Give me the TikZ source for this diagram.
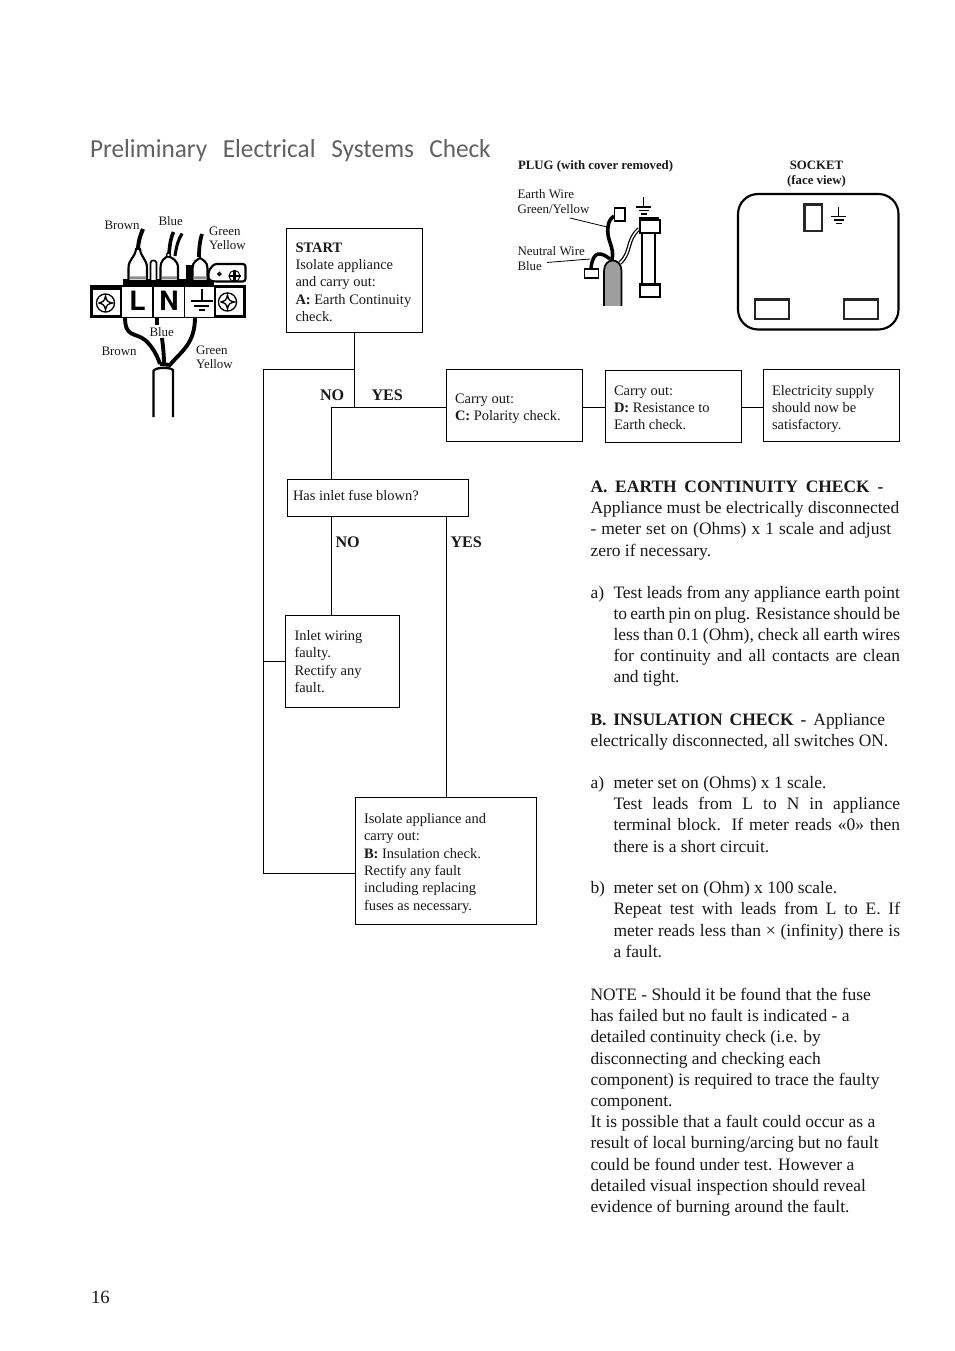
\documentclass[tikz,border=0pt]{standalone}
\usepackage{fontspec}
\setmainfont{Liberation Serif}
\newfontfamily\titlefont[FakeStretch=0.97]{Carlito}
\newfontfamily\blockfont{TeX Gyre Heros}
\definecolor{ink}{gray}{0.1}
\newcommand{\just}[2]{\makebox[#1][s]{#2}}
\tikzset{
 x=0.75pt,y=-0.75pt,
 txt/.style={inner sep=0pt,outer sep=0pt,text=ink},
 fbox/.style={draw=black,line width=0.75pt,inner sep=0pt,outer sep=0pt,rectangle,anchor=north west},
 boxtext/.style={txt,anchor=north west,align=left,font=\fontsize{10.85}{13}\selectfont},
 lab/.style={txt,anchor=north west,align=left,font=\fontsize{9.7}{11}\selectfont},
 yn/.style={txt,font=\bfseries\fontsize{12.1}{12}\selectfont,anchor=base west},
 wire/.style={line width=0.75pt},
 capbox/.style={draw=black,fill=white,inner sep=0pt,anchor=north west},
}
\begin{document}
\begin{tikzpicture}
\useasboundingbox (0,0) rectangle (954,1351);
\fill[white] (0,0) rectangle (954,1351);
% title
\node[txt,anchor=base west,text=black!62,font=\titlefont\fontsize{19.5}{20}\selectfont] (title) at (90,157.5) {Preliminary\hspace{7.5pt} Electrical\hspace{7.5pt} Systems\hspace{7.2pt} Check};
% flow boxes
\node[fbox,minimum width=102pt,minimum height=78pt] (start) at (286.5,228.5) {};
\node[fbox,minimum width=102pt,minimum height=54pt] (carryc) at (446.5,369.5) {};
\node[fbox,minimum width=102pt,minimum height=54pt] (carryd) at (605.5,370.5) {};
\node[fbox,minimum width=102pt,minimum height=54pt] (elec) at (763.5,369.5) {};
\node[fbox,minimum width=135.75pt,minimum height=27.75pt] (fuse) at (287.5,479.5) {};
\node[fbox,minimum width=85.75pt,minimum height=69pt] (inlet) at (285.5,615.5) {};
\node[fbox,minimum width=135.75pt,minimum height=95.25pt] (isolate) at (355.5,797.5) {};
\node[boxtext] at (295.5,242.5) {\textbf{START}\\Isolate appliance\\and carry out:\\\textbf{A:} Earth Continuity\\check.};
\node[boxtext] at (455,393.5) {Carry out:\\\textbf{C:} Polarity check.};
\node[boxtext,font=\fontsize{10.85}{12.7}\selectfont] at (614,386) {Carry out:\\\textbf{D:} Resistance to\\Earth check.};
\node[boxtext,font=\fontsize{10.85}{12.8}\selectfont] at (772,385.5) {Electricity supply\\should now be\\satisfactory.};
\node[boxtext] at (293,490.5) {Has inlet fuse blown?};
\node[boxtext] at (294.5,630.5) {Inlet wiring\\faulty.\\Rectify any\\fault.};
\node[boxtext] at (364,813.5) {Isolate appliance and\\carry out:\\\textbf{B:} Insulation check.\\Rectify any fault\\including replacing\\fuses as necessary.};
\node[yn] at (320,400) {NO};
\node[yn] at (371.5,400) {YES};
\node[yn] at (335.5,547) {NO};
\node[yn] at (450.5,547) {YES};
% flow lines
\coordinate (j1) at (354.5,369.5);
\coordinate (j2) at (354.5,407);
\coordinate (j3) at (331.5,407);
\coordinate (l1) at (263.5,369.5);
\coordinate (l2) at (263.5,873.5);
\coordinate (l3) at (263.5,661.5);
\draw[wire] (start.south -| j1) -- (j2);
\draw[wire] (j1) -- (l1) -- (l2) -- (isolate.west |- l2);
\draw[wire] (l3) -- (inlet.west |- l3);
\draw[wire] (carryc.west |- j2) -- (j3) -- (fuse.north -| j3);
\draw[wire] (fuse.south -| j3) -- (inlet.north -| j3);
\draw[wire] (fuse.south -| 446.5,0) -- (isolate.north -| 446.5,0);
\draw[wire] (carryc.east |- 0,407) -- (carryd.west |- 0,407);
\draw[wire] (carryd.east |- 0,407) -- (elec.west |- 0,407);
% right text
\begin{scope}[every node/.style={txt,anchor=base west,font=\fontsize{13.1}{13}\selectfont,yshift=-0.6pt}]
\node at (590.5,492) {\bfseries\just{219.7pt}{A.\ EARTH CONTINUITY CHECK -}};
\node at (590.5,513) {\just{231.5pt}{Appliance must be electrically disconnected}};
\node at (590.5,534) {\just{225.5pt}{- meter set on (Ohms) x 1 scale and adjust}};
\node at (590.5,555.5) {zero if necessary.};
\node at (590.5,597.5) {a)};
\node at (613.5,597.5) {\just{214.9pt}{Test leads from any appliance earth point}};
\node at (613.5,618.5) {\just{214.9pt}{to earth pin on plug. Resistance should be}};
\node at (613.5,639.5) {\just{214.9pt}{less than 0.1 (Ohm), check all earth wires}};
\node at (613.5,660.5) {\just{214.9pt}{for continuity and all contacts are clean}};
\node at (613.5,682) {and tight.};
\node at (590.5,724.5) {\just{221pt}{\textbf{B. INSULATION CHECK -} Appliance}};
\node at (590.5,745.5) {electrically disconnected, all switches ON.};
\node at (590.5,787.5) {a)};
\node at (613.5,787.5) {meter set on (Ohms) x 1 scale.};
\node at (613.5,808.5) {\just{214.9pt}{Test leads from L to N in appliance}};
\node at (613.5,830) {\just{214.9pt}{terminal block. If meter reads «0» then}};
\node at (613.5,851.5) {there is a short circuit.};
\node at (590.5,893) {b)};
\node at (613.5,893) {meter set on (Ohm) x 100 scale.};
\node at (613.5,914) {\just{214.9pt}{Repeat test with leads from L to E. If}};
\node at (613.5,935.5) {\just{214.9pt}{meter reads less than × (infinity) there is}};
\node at (613.5,957) {a fault.};
\node at (590.5,999.5) {NOTE - Should it be found that the fuse};
\node at (590.5,1020.5) {has failed but no fault is indicated - a};
\node at (590.5,1042) {detailed continuity check (i.e. by};
\node at (590.5,1063.5) {disconnecting and checking each};
\node at (590.5,1084.5) {component) is required to trace the faulty};
\node at (590.5,1106) {component.};
\node at (590.5,1127) {It is possible that a fault could occur as a};
\node at (590.5,1148) {result of local burning/arcing but no fault};
\node at (590.5,1169.5) {could be found under test. However a};
\node at (590.5,1190.5) {detailed visual inspection should reveal};
\node at (590.5,1211.5) {evidence of burning around the fault.};
\node[font=\fontsize{14}{14}\selectfont] at (91,1303) {16};
\end{scope}
% socket
\node[txt,font=\bfseries\fontsize{9.6}{11.3}\selectfont,align=center,anchor=north] (socklab) at (816.5,161) {SOCKET\\(face view)};
\draw[line width=1.6pt,rounded corners=15pt] (738,194) rectangle (898.5,329.5);
\draw[line width=1.8pt,draw=black!85] (804.5,204.5) rectangle (822,231);
\draw[line width=1.6pt,draw=black!85] (755,299.5) rectangle (789,319);
\draw[line width=1.6pt,draw=black!85] (844,299.5) rectangle (878,319);
\draw[line width=1.2pt] (838.5,207) -- (838.5,216.5);
\draw[line width=1.2pt] (831,216.7) -- (846,216.7) (833.5,220.3) -- (843.5,220.3);
\draw[line width=1.2pt] (835.5,223.7) -- (841.5,223.7);
% plug
\node[txt,font=\bfseries\fontsize{9.6}{11}\selectfont,anchor=base west] at (518,170) {PLUG (with cover removed)};
\node[lab] at (517.5,190) {Earth Wire\\Green/Yellow};
\node[lab] at (517.5,247) {Neutral Wire\\Blue};
\draw[wire,line width=0.6pt] (570,218) -- (607,227);
\draw[wire,line width=0.6pt] (547,262.5) -- (590,259);
\fill[black!38] (604,271) .. controls (604,257) and (621.5,257) .. (621.5,271) -- (621.5,306) -- (604,306) -- cycle;
\draw[line width=1.3pt] (604,306) -- (604,271) .. controls (604,257) and (621.5,257) .. (621.5,271) -- (621.5,306);
\draw[line width=2.7pt] (612,260) .. controls (615,247) and (606,240) .. (608,227) .. controls (608.5,222) and (610,219) .. (614,216);
\draw[line width=2.6pt] (610,259) .. controls (601,252) and (593,250) .. (591,268);
\draw[line width=3pt] (620,263) .. controls (632,252) and (626,240) .. (639,229);
\draw[line width=1.1pt,white] (620,263) .. controls (632,252) and (626,240) .. (639,229);
\node[capbox,line width=1.3pt,minimum width=8pt,minimum height=9.75pt] (e1) at (613.5,207.5) {};
\node[capbox,line width=1.3pt,minimum width=10.5pt,minimum height=6.5pt] (n1) at (583.5,268.5) {};
\draw[line width=1.7pt] (642,231) rectangle (655,284);
\node[capbox,line width=1.6pt,minimum width=15pt,minimum height=10pt] (fuseT) at (638.5,219) {};
\draw[line width=2.4pt] (638.5,219) -- (658.5,219);
\node[capbox,line width=1.6pt,minimum width=15pt,minimum height=9.5pt] (fuseB) at (639,283.5) {};
\draw[line width=1.2pt] (643.5,197) -- (643.5,207);
\draw[line width=1.2pt] (636,207.3) -- (651,207.3) (638.5,210.7) -- (648.5,210.7);
\draw[line width=1.2pt] (640.5,214) -- (646.5,214);
% terminal block
\fill[black] (90,285) rectangle (245.5,318);
\fill[black] (123,279.5) rectangle (214,285);
\fill[white] (92.5,290.5) rectangle (120,315.5);
\fill[white] (215.5,288) rectangle (243,315.5);
\draw[line width=1pt,fill=white] (121,286.5) rectangle (153,317.5);
\draw[line width=1pt,fill=white] (153,286.5) rectangle (184.5,317.5);
\draw[line width=1pt,fill=white] (184.5,286.5) rectangle (214.5,317.5);
\foreach \cx/\cy in {105.5/303, 227.5/302}{
 \draw[line width=1pt] (\cx,\cy) circle[radius=6.8pt];
 \draw[line width=1pt] (\cx-7,\cy) .. controls (\cx-2,\cy-1) and (\cx-1,\cy-2) .. (\cx,\cy-7) .. controls (\cx+1,\cy-2) and (\cx+2,\cy-1) .. (\cx+7,\cy) .. controls (\cx+2,\cy+1) and (\cx+1,\cy+2) .. (\cx,\cy+7) .. controls (\cx-1,\cy+2) and (\cx-2,\cy+1) .. (\cx-7,\cy);
}
\node[inner sep=0pt,font=\blockfont\bfseries\fontsize{20}{20}\selectfont] (L) at (137.5,301) {L};
\node[inner sep=0pt,font=\blockfont\bfseries\fontsize{20}{20}\selectfont] (N) at (169,301) {N};
\draw[line width=1.5pt] (201.5,289) -- (201.5,301);
\draw[line width=1.5pt] (190.5,301.5) -- (212.5,301.5) (194,306) -- (209,306);
\draw[line width=1.7pt] (198.5,310) -- (204.5,310);
% top terminals
\draw[line width=1.6pt,fill=white] (128.5,280) -- (128.5,268) .. controls (128.5,259) and (135,258) .. (136,249) -- (140,249) .. controls (141,258) and (147,259) .. (147,268) -- (147,280);
\draw[line width=1.6pt,fill=white] (160.5,280) -- (160.5,268) .. controls (160.5,260) and (165,258) .. (168,256) .. controls (172,258) and (178,260) .. (178,268) -- (178,280);
\draw[line width=2.7pt] (169,253) .. controls (170,245) and (170,240) .. (173.5,232);
\draw[line width=1pt,fill=white] (168.5,255) circle[radius=2];
\draw[line width=1.6pt,fill=white] (192.5,280) -- (192.5,268) .. controls (192.5,262) and (197,260) .. (200,258) .. controls (203,260) and (207.5,262) .. (207.5,268) -- (207.5,280);
\draw[line width=1.2pt,fill=white] (150.5,280) -- (150.5,263) .. controls (150.5,259.5) and (156.5,259.5) .. (156.5,263) -- (156.5,280);
\fill[black] (186,265) rectangle (192.5,280);
\fill[black!45] (130,276.5) rectangle (146,279.5) (162,276.5) rectangle (177,279.5) (193.5,276.5) rectangle (207,279.5);
\draw[line width=3pt] (138,249) .. controls (138.5,241) and (140,236) .. (143,229);
\draw[line width=2.3pt] (175,256) .. controls (176,248) and (178,240) .. (182,233.5);
\draw[line width=2.8pt] (199,257) .. controls (199,250) and (199.5,242) .. (202,234);
\draw[line width=1.6pt,fill=white,rounded corners=2pt] (208.5,280) -- (208.5,271) -- (214,264) -- (245.5,264) -- (245.5,281.5) -- (214,281.5) -- cycle;
\draw[line width=1pt] (219.3,274) circle[radius=1.6];
\draw[line width=0.7pt] (234.5,276) circle[radius=5.5];
\draw[line width=2pt] (234.5,270) -- (234.5,282) (228.5,276) -- (240.5,276);
% bottom wires
\draw[line width=2.9pt] (125,317) .. controls (125,338) and (135,332) .. (145,340) .. controls (152,346) and (157,355) .. (160,364);
\fill[black] (155,318) rectangle (159,325);
\draw[line width=2.9pt] (162,338) .. controls (163,346) and (164,355) .. (164,364);
\draw[line width=2.9pt] (195,317) .. controls (195,345) and (180,352) .. (170,365);
\draw[line width=2.9pt] (160,364) -- (171,365);
\draw[line width=1.7pt] (153.5,417) -- (153.5,371) .. controls (155,367) and (170,367) .. (173,370) -- (173,417);
% labels
\node[lab] at (104.5,221.5) {Brown};
\node[lab] at (158.5,216.5) {Blue};
\node[lab] at (209,226.5) {Green\\Yellow};
\node[lab] at (149.5,327.5) {Blue};
\node[lab] at (101.5,347.5) {Brown};
\node[lab] at (196,345.5) {Green\\Yellow};
\end{tikzpicture}
\end{document}
